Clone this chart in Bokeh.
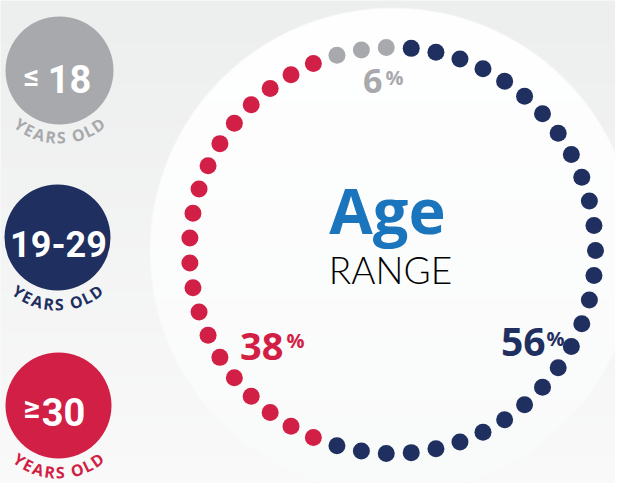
import numpy as np
from bokeh.plotting import figure
from bokeh.models import Range1d
from bokeh.core.properties import value
from bokeh.embed import file_html
from bokeh.resources import INLINE

# ---------------- data ----------------
age_groups = ["≤18", "19-29", "≥30"]
group_symbols = ["≤", "", "≥"]
group_numbers = ["18", "19-29", "30"]
percents = [6, 56, 38]
dot_counts = [3, 28, 20]          # dots per group on the ring (51 dots)
sub_label = "YEARS OLD"
title_main = "Age"
title_sub = "RANGE"

# ---------------- styles / layout ----------------
colors = ["#a7a9ac", "#1f2f5f", "#d21f45"]
ring_order = [0, 2, 1]            # counter-clockwise from the top: gray, red, navy
ring_start = 13                   # ring slot of the first gray dot
W, H = 631, 499
BL = 0.36                         # baseline correction (em)


def Y(img_y):
    return H - img_y


def YB(img_y, fs):
    return H - (img_y - BL * fs)


p = figure(width=615, height=483, x_range=Range1d(0, 615), y_range=Range1d(16, 499),
           output_backend="svg", toolbar_location=None, min_border=0,
           x_axis_location=None, y_axis_location=None)
p.grid.visible = False
p.outline_line_color = None
p.background_fill_color = "#f4f5f5"
p.border_fill_color = "#f4f5f5"

# background: soft vertical gradient + large white disc
yy, xx = np.mgrid[0:H, 0:W].astype(float)
t = (yy / (H - 1))[..., None]
outside = np.array([237, 238, 238]) * (1 - t) + np.array([250, 250, 250]) * t
inside = np.array([255, 255, 255]) * (1 - t) + np.array([249, 250, 250]) * t
d = np.hypot(xx - 392, yy - 250)
a = np.clip(243.5 - d, 0, 1)[..., None]
col = outside * (1 - a) + inside * a
img = np.empty((H, W), dtype=np.uint32)
view = img.view(dtype=np.uint8).reshape((H, W, 4))
view[..., 0] = col[..., 0].astype(np.uint8)
view[..., 1] = col[..., 1].astype(np.uint8)
view[..., 2] = col[..., 2].astype(np.uint8)
view[..., 3] = 255
p.image_rgba(image=[img[::-1]], x=0, y=0, dw=W, dh=H)

# ---------------- ring of dots ----------------
n = sum(dot_counts)
cx, cy, R = 392, 250, 203
dot_colors = []
for gi in ring_order:
    dot_colors += [colors[gi]] * dot_counts[gi]
ks = (ring_start + np.arange(n)) % n
ang = ks * 2 * np.pi / n
dx = cx + R * np.cos(ang)
dy = Y(cy) + R * np.sin(ang)
p.circle(x=dx, y=dy, radius=8.5, fill_color=dot_colors, line_color=None)

# ---------------- center title ----------------
p.text(x=[387], y=[YB(232, 63)], text=[title_main], text_font=value("Open Sans"),
       text_font_style="bold", text_font_size="63px", text_color="#1b75bc",
       text_align="center", text_baseline="alphabetic")
p.text(x=[390], y=[YB(282, 37)], text=[title_sub],
       text_font=value("'Lato Light', Lato"),
       text_font_size="37px", text_color="#000000",
       text_align="center", text_baseline="alphabetic")

# ---------------- percentage labels ----------------
pct_num_pos = [(382, 93, 34), (545, 356, 39), (283, 360, 38)]
pct_sym_pos = [(385, 84), (546, 345), (286, 347)]
for i in range(3):
    x0, y0, fs = pct_num_pos[i]
    p.text(x=[x0], y=[YB(y0, fs)], text=[str(percents[i])], text_font=value("Open Sans"),
           text_font_style="bold", text_font_size=f"{fs}px", text_color=colors[i],
           text_align="right", text_baseline="alphabetic")
    sx, sy = pct_sym_pos[i]
    p.text(x=[sx], y=[YB(sy, 20)], text=["%"], text_font=value("Open Sans"),
           text_font_style="bold", text_font_size="20px", text_color=colors[i],
           text_align="left", text_baseline="alphabetic")

# ---------------- left badges ----------------
badge_centers = [(59, 70, 54), (57, 237, 53), (58, 405, 53)]
p.circle(x=[c[0] for c in badge_centers], y=[Y(c[1]) for c in badge_centers],
         radius=[c[2] for c in badge_centers], fill_color=colors, line_color=None)

num_pos = [(69, 92, 38), (58, 256, 36), (63, 425, 38)]
sym_pos = [(31, 86, 30), None, (31, 418, 32)]
for i in range(3):
    x0, y0, fs = num_pos[i]
    p.text(x=[x0], y=[YB(y0, fs)], text=[group_numbers[i]],
           text_font=value("Roboto"), text_font_style="bold",
           text_font_size=f"{fs}px", text_color="white",
           text_align="center", text_baseline="alphabetic")
    if sym_pos[i] is not None:
        sx, sy, sfs = sym_pos[i]
        p.text(x=[sx], y=[YB(sy, sfs)], text=[group_symbols[i]],
               text_font=value("Roboto"), text_font_style="bold",
               text_font_size=f"{sfs}px", text_color="white",
               text_align="center", text_baseline="alphabetic")

# curved "YEARS OLD" under each badge
char_w = {"Y": .62, "E": .56, "A": .69, "R": .65, "S": .55, " ": .28,
          "O": .77, "L": .52, "D": .72}
fs_sub = 16
r_sub = 67
widths = np.array([char_w[c] * fs_sub + 1.0 for c in sub_label])
centers = np.cumsum(widths) - widths / 2 - widths.sum() / 2
phis = centers / r_sub
for i in range(3):
    bx, by, _ = badge_centers[i]
    lx = bx + r_sub * np.sin(phis)
    ly = Y(by) - r_sub * np.cos(phis)
    p.text(x=lx, y=ly, text=list(sub_label), angle=phis,
           text_font=value("Open Sans"), text_font_style="bold",
           text_font_size=f"{fs_sub}px", text_color=colors[i],
           text_align="center", text_baseline="middle")

open("out.html", "w").write(file_html(p, INLINE))
